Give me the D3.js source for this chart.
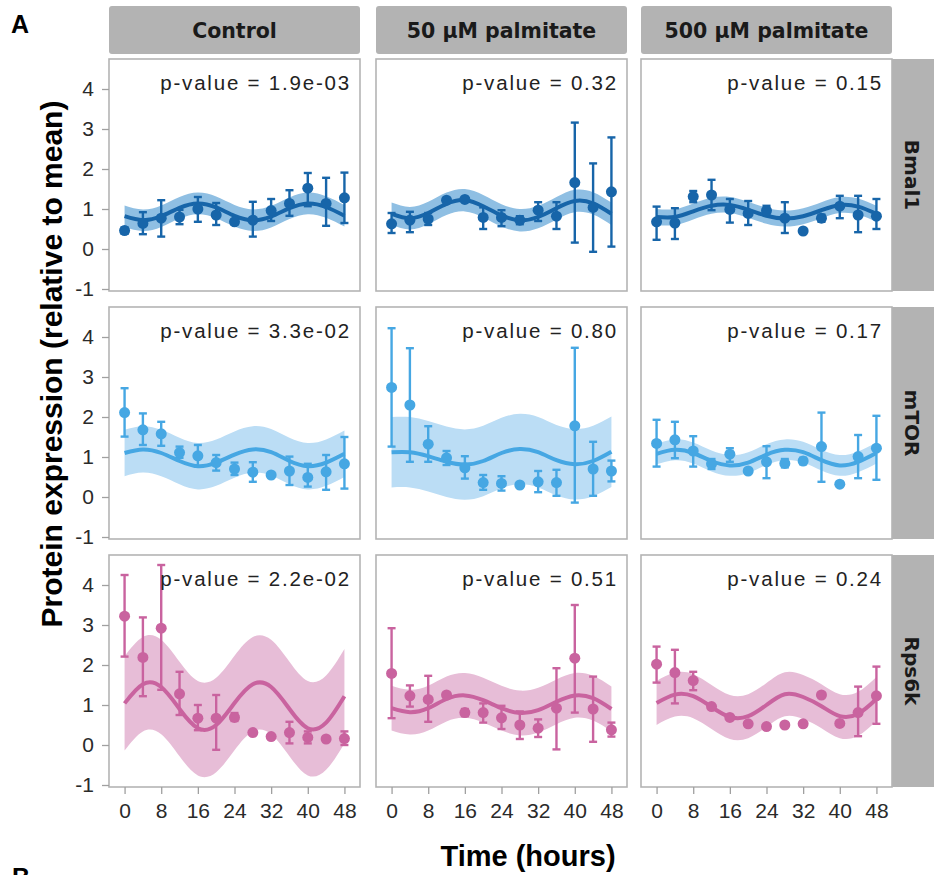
<!DOCTYPE html>
<html>
<head>
<meta charset="utf-8">
<script src="https://d3js.org/d3.v7.min.js"></script>
<style>
  body { margin: 0; background: #fff; }
  text { font-family: "Liberation Sans", Arial, sans-serif; }
</style>
</head>
<body>
<script>
// time points (hours)
var times = [0, 4, 8, 12, 16, 20, 24, 28, 32, 36, 40, 44, 48];
var xTicks = [0, 8, 16, 24, 32, 40, 48];
var yTicks = [-1, 0, 1, 2, 3, 4];

var genes = ["Bmal1", "mTOR", "Rps6k"];
var treatments = ["Control", "50 \u00b5M palmitate", "500 \u00b5M palmitate"];
var pValues = [
  ["1.9e-03", "0.32", "0.15"],
  ["3.3e-02", "0.80", "0.17"],
  ["2.2e-02", "0.51", "0.24"]
];

// each gene: [Control, 50 uM, 500 uM]
var bmal1Mean = [
  [0.46, 0.64, 0.77, 0.80, 1.00, 0.85, 0.68, 0.72, 0.96, 1.14, 1.52, 1.14, 1.28],
  [0.63, 0.72, 0.75, 1.22, 1.24, 0.79, 0.79, 0.72, 0.97, 0.82, 1.66, 1.04, 1.43],
  [0.68, 0.65, 1.31, 1.35, 0.99, 0.89, 0.96, 0.77, 0.45, 0.77, 1.07, 0.85, 0.82]
];
var bmal1Lo = [
  [0.38, 0.37, 0.31, 0.62, 0.68, 0.60, 0.62, 0.31, 0.70, 0.83, 1.07, 0.58, 0.65],
  [0.40, 0.42, 0.60, 1.22, 1.24, 0.50, 0.57, 0.62, 0.70, 0.50, 0.16, -0.07, 0.06],
  [0.23, 0.25, 1.17, 0.97, 0.66, 0.60, 0.85, 0.40, 0.45, 0.68, 0.77, 0.42, 0.50]
];
var bmal1Hi = [
  [0.54, 0.92, 1.22, 0.98, 1.30, 1.15, 0.74, 1.18, 1.25, 1.47, 1.90, 1.78, 1.91],
  [0.90, 0.93, 0.90, 1.22, 1.24, 1.04, 0.97, 0.82, 1.17, 1.17, 3.16, 2.14, 2.79],
  [1.06, 1.02, 1.45, 1.73, 1.25, 1.20, 1.08, 1.17, 0.45, 0.86, 1.33, 1.33, 1.25]
];
var bmal1Fit = [
  [0.82, 0.72, 0.82, 1.03, 1.14, 1.04, 0.83, 0.72, 0.81, 1.02, 1.14, 1.05, 0.83],
  [0.88, 0.77, 0.90, 1.13, 1.22, 1.07, 0.84, 0.72, 0.80, 1.02, 1.20, 1.14, 0.88],
  [0.80, 0.80, 0.94, 1.08, 1.10, 0.98, 0.83, 0.76, 0.82, 0.97, 1.10, 1.06, 0.88]
];
var bmal1Band = [0.27, 0.28, 0.20];

var mtorMean = [
  [2.11, 1.68, 1.58, 1.11, 1.03, 0.86, 0.70, 0.62, 0.55, 0.65, 0.49, 0.63, 0.83],
  [2.74, 2.30, 1.32, 0.98, 0.73, 0.36, 0.34, 0.30, 0.38, 0.36, 1.78, 0.70, 0.65],
  [1.34, 1.43, 1.15, 0.83, 1.07, 0.65, 0.88, 0.84, 0.90, 1.26, 0.32, 1.01, 1.22]
];
var mtorLo = [
  [1.51, 1.30, 1.28, 0.98, 0.76, 0.66, 0.55, 0.38, 0.55, 0.30, 0.26, 0.18, 0.21],
  [1.26, 0.88, 0.88, 0.80, 0.46, 0.18, 0.16, 0.30, 0.12, 0.03, -0.14, 0.03, 0.39],
  [0.76, 0.97, 0.76, 0.70, 0.88, 0.65, 0.47, 0.74, 0.82, 0.38, 0.32, 0.47, 0.43]
];
var mtorHi = [
  [2.72, 2.09, 1.88, 1.26, 1.30, 1.05, 0.86, 0.87, 0.55, 1.01, 0.83, 1.05, 1.50],
  [4.22, 3.72, 1.77, 1.15, 1.02, 0.55, 0.52, 0.30, 0.65, 0.68, 3.73, 1.38, 0.91],
  [1.93, 1.88, 1.52, 0.95, 1.22, 0.65, 1.27, 0.95, 0.98, 2.11, 0.32, 1.55, 2.03]
];
var mtorFit = [
  [1.10, 1.19, 1.10, 0.90, 0.77, 0.86, 1.06, 1.19, 1.12, 0.90, 0.77, 0.86, 1.08],
  [1.12, 1.12, 1.02, 0.88, 0.81, 0.90, 1.10, 1.20, 1.12, 0.92, 0.82, 0.90, 1.13],
  [1.08, 1.18, 1.10, 0.90, 0.79, 0.86, 1.06, 1.18, 1.12, 0.92, 0.79, 0.88, 1.10]
];
var mtorBand = [0.58, 0.88, 0.26];

var rps6kMean = [
  [3.22, 2.19, 2.92, 1.28, 0.67, 0.67, 0.69, 0.31, 0.21, 0.31, 0.19, 0.15, 0.16],
  [1.79, 1.23, 1.14, 1.25, 0.81, 0.81, 0.68, 0.50, 0.42, 0.92, 2.17, 0.90, 0.38],
  [2.02, 1.81, 1.61, 0.96, 0.69, 0.53, 0.46, 0.50, 0.53, 1.25, 0.54, 0.81, 1.23]
];
var rps6kLo = [
  [2.21, 1.22, 1.38, 0.75, 0.37, -0.12, 0.60, 0.31, 0.21, 0.04, 0.04, 0.15, 0.00],
  [0.67, 0.96, 0.58, 1.25, 0.72, 0.56, 0.40, 0.15, 0.20, -0.11, 0.81, 0.08, 0.21],
  [1.56, 1.04, 1.37, 0.96, 0.69, 0.53, 0.46, 0.50, 0.53, 1.25, 0.54, 0.22, 0.53]
];
var rps6kHi = [
  [4.25, 3.19, 4.50, 1.83, 1.00, 1.25, 0.80, 0.31, 0.21, 0.58, 0.34, 0.15, 0.34],
  [2.92, 1.49, 1.73, 1.25, 0.90, 1.04, 0.98, 0.84, 0.64, 1.92, 3.50, 1.71, 0.56],
  [2.46, 2.38, 1.83, 0.96, 0.69, 0.53, 0.46, 0.50, 0.53, 1.25, 0.54, 1.46, 1.96]
];
var rps6kFit = [
  [1.04, 1.52, 1.45, 0.90, 0.42, 0.50, 1.05, 1.52, 1.45, 0.90, 0.42, 0.56, 1.22],
  [0.92, 0.82, 0.92, 1.15, 1.24, 1.12, 0.92, 0.80, 0.87, 1.08, 1.24, 1.17, 0.90],
  [1.05, 1.26, 1.22, 0.95, 0.70, 0.72, 1.00, 1.27, 1.20, 0.97, 0.72, 0.78, 1.15]
];
var rps6kBand = [1.18, 0.56, 0.55];

var pointColors = ["#1765a9", "#46a7e3", "#c9639f"];
var ribbonColors = ["#8fbfe3", "#bbddf5", "#e7bdd7"];

var allMean = [bmal1Mean, mtorMean, rps6kMean];
var allLo = [bmal1Lo, mtorLo, rps6kLo];
var allHi = [bmal1Hi, mtorHi, rps6kHi];
var allFit = [bmal1Fit, mtorFit, rps6kFit];
var allBand = [bmal1Band, mtorBand, rps6kBand];

// layout
var colX = [109, 376, 641];
var rowY = [59, 307, 555];
var panelW = 251, panelH = 232;

var svg = d3.select("body").append("svg")
    .attr("width", 934)
    .attr("height", 875);

var x = d3.scaleLinear().domain([-3.4, 51.4]).range([0, panelW]);
var y = d3.scaleLinear().domain([-1.05, 4.75]).range([panelH, 0]);

var line = d3.line()
    .x(function(d) { return x(d.t); })
    .y(function(d) { return y(d.v); })
    .curve(d3.curveNatural);

var area = d3.area()
    .x(function(d) { return x(d.t); })
    .y0(function(d) { return y(d.v - d.b); })
    .y1(function(d) { return y(d.v + d.b); })
    .curve(d3.curveNatural);

// column strips
treatments.forEach(function(name, c) {
  svg.append("rect")
      .attr("x", colX[c]).attr("y", 6)
      .attr("width", panelW).attr("height", 48)
      .attr("rx", 3)
      .attr("fill", "#b3b3b3");
  svg.append("text")
      .attr("x", colX[c] + panelW / 2).attr("y", 38)
      .attr("text-anchor", "middle")
      .style("font-family", "'DejaVu Sans', sans-serif")
      .style("font-weight", "bold")
      .style("font-size", "20.5px")
      .attr("fill", "#1a1a1a")
      .text(name);
});

genes.forEach(function(gene, r) {
  // row strip
  svg.append("rect")
      .attr("x", 891).attr("y", rowY[r])
      .attr("width", 43).attr("height", panelH)
      .attr("fill", "#b3b3b3");
  svg.append("text")
      .attr("transform", "translate(912," + (rowY[r] + panelH / 2) + ") rotate(90)")
      .attr("text-anchor", "middle")
      .attr("dy", "0.36em")
      .style("font-family", "'DejaVu Sans', sans-serif")
      .style("font-weight", "bold")
      .style("font-size", "20px")
      .attr("fill", "#1a1a1a")
      .text(gene);

  treatments.forEach(function(tr, c) {
    var g = svg.append("g")
        .attr("transform", "translate(" + colX[c] + "," + rowY[r] + ")");

    g.append("rect")
        .attr("width", panelW).attr("height", panelH)
        .attr("fill", "#fff")
        .attr("stroke", "#b4b4b4")
        .attr("stroke-width", 1.6);

    var fit = times.map(function(t, i) {
      return { t: t, v: allFit[r][c][i], b: allBand[r][c] };
    });
    var pts = times.map(function(t, i) {
      return { t: t, v: allMean[r][c][i], lo: allLo[r][c][i], hi: allHi[r][c][i] };
    });

    g.append("path")
        .datum(fit)
        .attr("d", area)
        .attr("fill", ribbonColors[r]);

    g.append("path")
        .datum(fit)
        .attr("d", line)
        .attr("fill", "none")
        .attr("stroke", pointColors[r])
        .attr("stroke-width", 4);

    var bars = g.selectAll(".bar").data(pts).enter().append("g")
        .attr("class", "bar")
        .attr("stroke", pointColors[r])
        .attr("stroke-width", 2.4);
    bars.append("line")
        .attr("x1", function(d) { return x(d.t); })
        .attr("x2", function(d) { return x(d.t); })
        .attr("y1", function(d) { return y(d.lo); })
        .attr("y2", function(d) { return y(d.hi); });
    bars.append("line")
        .attr("x1", function(d) { return x(d.t) - 4; })
        .attr("x2", function(d) { return x(d.t) + 4; })
        .attr("y1", function(d) { return y(d.lo); })
        .attr("y2", function(d) { return y(d.lo); });
    bars.append("line")
        .attr("x1", function(d) { return x(d.t) - 4; })
        .attr("x2", function(d) { return x(d.t) + 4; })
        .attr("y1", function(d) { return y(d.hi); })
        .attr("y2", function(d) { return y(d.hi); });

    g.selectAll(".dot").data(pts).enter().append("circle")
        .attr("class", "dot")
        .attr("cx", function(d) { return x(d.t); })
        .attr("cy", function(d) { return y(d.v); })
        .attr("r", 5.5)
        .attr("fill", pointColors[r]);

    g.append("text")
        .attr("x", panelW - 9)
        .attr("y", 31)
        .attr("text-anchor", "end")
        .style("font-size", "20.5px")
        .style("letter-spacing", "1.8px")
        .attr("fill", "#222")
        .text("p-value = " + pValues[r][c]);

    // axes only on outer panels
    if (c === 0) {
      var ya = g.append("g").call(d3.axisLeft(y)
          .tickValues(yTicks)
          .tickFormat(function(d) { return String(d); })
          .tickSize(7).tickPadding(8));
      styleAxis(ya);
    }
    if (r === genes.length - 1) {
      var xa = g.append("g")
          .attr("transform", "translate(0," + panelH + ")")
          .call(d3.axisBottom(x).tickValues(xTicks).tickSize(7).tickPadding(9));
      styleAxis(xa);
    }
  });
});

function styleAxis(a) {
  a.select(".domain").remove();
  a.selectAll(".tick line").attr("stroke", "#a0a0a0").attr("stroke-width", 1.3);
  a.selectAll(".tick text")
      .attr("fill", "#2a2a2a")
      .style("font-family", "'Liberation Sans', Arial, sans-serif")
      .style("font-size", "21px");
}

// axis titles
svg.append("text")
    .attr("transform", "translate(62,364) rotate(-90)")
    .attr("text-anchor", "middle")
    .style("font-weight", "bold")
    .style("font-size", "30px")
    .attr("fill", "#000")
    .text("Protein expression (relative to mean)");

svg.append("text")
    .attr("x", 528).attr("y", 866)
    .attr("text-anchor", "middle")
    .style("font-weight", "bold")
    .style("font-size", "29px")
    .attr("fill", "#000")
    .text("Time (hours)");

// panel letters
svg.append("text")
    .attr("x", 11).attr("y", 33)
    .style("font-weight", "bold")
    .style("font-size", "25px")
    .text("A");
svg.append("text")
    .attr("x", 12).attr("y", 886)
    .style("font-weight", "bold")
    .style("font-size", "25px")
    .text("B");
</script>
</body>
</html>
